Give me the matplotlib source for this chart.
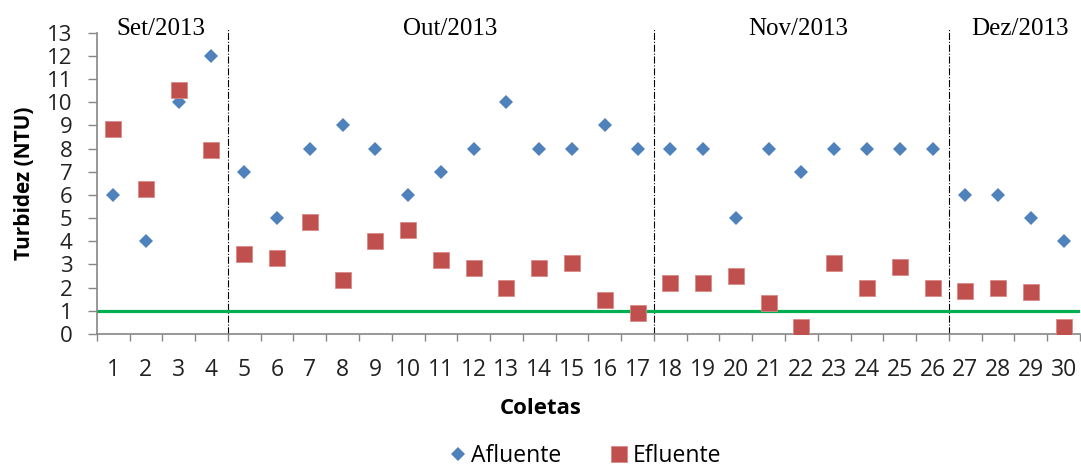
import matplotlib.pyplot as plt
from matplotlib.ticker import FixedLocator

plt.rcParams['font.family'] = ['Open Sans', 'DejaVu Sans']

coletas = list(range(1, 31))
afluente = [6, 4, 10, 12, 7, 5, 8, 9, 8, 6, 7, 8, 10, 8, 8, 9, 8,
            8, 8, 5, 8, 7, 8, 8, 8, 8, 6, 6, 5, 4]
efluente = [8.85, 6.25, 10.55, 7.95, 3.45, 3.3, 4.85, 2.35, 4.0, 4.5, 3.2,
            2.85, 2.0, 2.85, 3.05, 1.45, 0.9, 2.2, 2.2, 2.5, 1.35, 0.3,
            3.05, 2.0, 2.9, 2.0, 1.85, 2.0, 1.8, 0.3]
limite = 1.0

meses = ['Set/2013', 'Out/2013', 'Nov/2013', 'Dez/2013']
meses_x = [2.45, 11.27, 21.89, 28.68]
divisoes = [4.5, 17.5, 26.5]

azul = '#4F81BD'
vermelho = '#C0504D'
verde = '#00B050'
cinza = '#868686'

fig = plt.figure(figsize=(10.81, 4.69), dpi=100)
ax = fig.add_axes([0.0895, 0.2878, 0.9096, 0.6424])

ax.axhline(limite, color=verde, linewidth=2.3, zorder=2)
for d in divisoes:
    ax.plot([d, d], [0, 13.2], color='black', linestyle='-.', linewidth=0.8,
            clip_on=False, zorder=1)

ax.plot(coletas, afluente, linestyle='none', marker='D', markersize=7.6,
        color=azul, markeredgewidth=0, label='Afluente', zorder=3)
ax.plot(coletas, efluente, linestyle='none', marker='s', markersize=11,
        color=vermelho, markeredgecolor='#D98A88', markeredgewidth=0.6,
        label='Efluente', zorder=4)

for m, mx in zip(meses, meses_x):
    ax.text(mx, 12.9, m, ha='center', va='baseline', fontsize=18,
            family='Liberation Serif', clip_on=False)

ax.set_xlim(0.5, 30.5)
ax.set_ylim(0, 13)
ax.set_yticks(range(0, 14))
ax.set_xticks(coletas)
ax.xaxis.set_minor_locator(FixedLocator([i + 0.5 for i in range(0, 31)]))

ax.tick_params(axis='y', length=6.5, width=1, color=cinza, pad=11,
               labelsize=16, labelcolor='#222222')
ax.tick_params(axis='x', which='major', length=0, pad=17,
               labelsize=16.5, labelcolor='#222222')
ax.tick_params(axis='x', which='minor', length=5, width=1, color=cinza)

for s in ['top', 'right']:
    ax.spines[s].set_visible(False)
for s in ['left', 'bottom']:
    ax.spines[s].set_color(cinza)
    ax.spines[s].set_linewidth(1.2)

ax.set_ylabel('Turbidez (NTU)', fontsize=15, fontweight='bold')
ax.yaxis.set_label_coords(-0.063, 0.5)
fig.text(0.5, 0.13, 'Coletas', ha='center', va='center', fontsize=16,
         fontweight='bold', transform=fig.transFigure)
fig.legend(loc='center', bbox_to_anchor=(0.54, 0.028), ncol=2, frameon=False,
           fontsize=16.5, handletextpad=0.1, columnspacing=2.0,
           handlelength=1.0)

fig.savefig('out.png', dpi=100)
